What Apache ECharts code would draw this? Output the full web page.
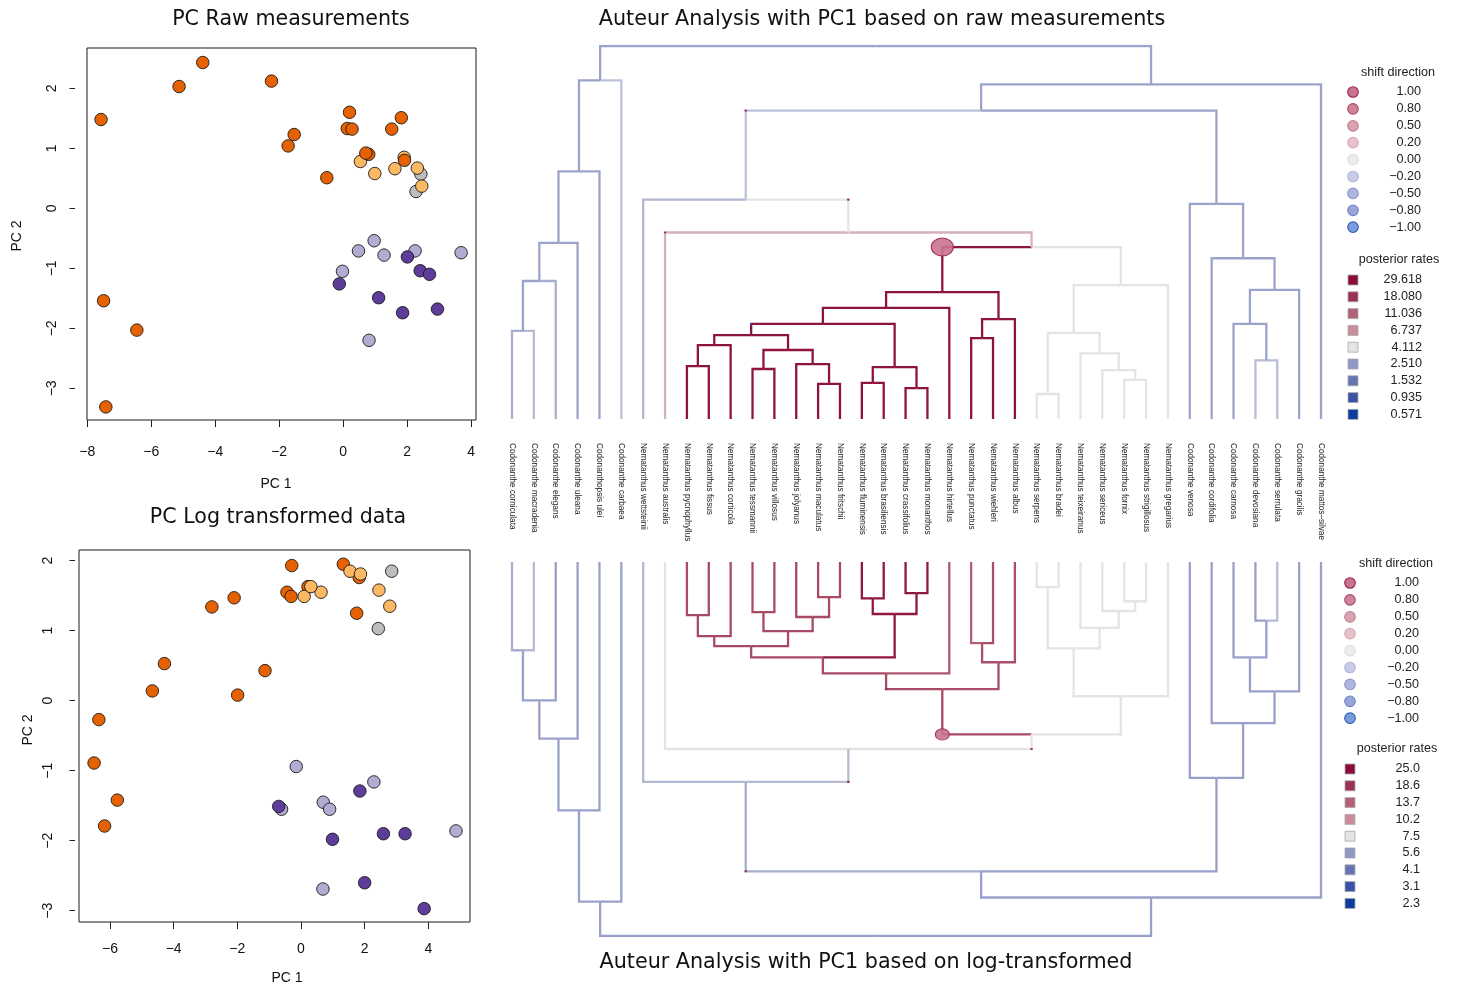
<!DOCTYPE html>
<html><head><meta charset="utf-8">
<script src="https://cdn.jsdelivr.net/npm/echarts@6/dist/echarts.min.js"></script>
<style>html,body{margin:0;padding:0;background:#fff}#c{width:1460px;height:985px}</style>
</head><body><div id="c"></div>
<script>
// ---------- tree data ----------
const tips = ['Codonanthe corniculata','Codonanthe macradenia','Codonanthe elegans','Codonanthe uleana','Codonanthopsis ulei','Codonanthe carbaea','Nematanthus wettsteinii','Nematanthus australis','Nematanthus pycnophyllus','Nematanthus fissus','Nematanthus corticola','Nematanthus tessmannii','Nematanthus villosus','Nematanthus jolyanus','Nematanthus maculatus','Nematanthus fritschii','Nematanthus fluminensis','Nematanthus brasiliensis','Nematanthus crassifolius','Nematanthus monanthos','Nematanthus hirtellus','Nematanthus punctatus','Nematanthus wiehleri','Nematanthus albus','Nematanthus serpens','Nematanthus bradei','Nematanthus teixeiranus','Nematanthus sericeus','Nematanthus fornix','Nematanthus strigillosus','Nematanthus gregarius','Codonanthe venosa','Codonanthe cordifolia','Codonanthe carnosa','Codonanthe devosiana','Codonanthe serrulata','Codonanthe gracilis','Codonanthe mattos\u2013silvae'];
const nodeNames = ['a','b','c','d','e','f','g','h','i','j','k','l','m','n','o','p','q','r','s','t','u','v','w','x','y','z','A','B','C','D','E','F','G','H','I','J','K'];
const nodeChildren = [[0,1],['a',2],['b',3],['c',4],['d',5],[8,9],['f',10],[11,12],[14,15],[13,'i'],['h','j'],['g','k'],[16,17],[18,19],['m','n'],['l','o'],['p',20],[21,22],['r',23],['q','s'],[24,25],[28,29],[27,'v'],[26,'w'],['u','x'],['y',30],['t','z'],[7,'A'],[6,'B'],[34,35],[33,'D'],['E',36],[32,'F'],[31,'G'],['C','H'],['I',37],['e','J']];
const nodeAge = [0.236,0.370,0.472,0.664,0.908,0.142,0.198,0.134,0.094,0.147,0.185,0.225,0.097,0.083,0.139,0.255,0.298,0.217,0.268,0.340,0.067,0.105,0.131,0.176,0.231,0.359,0.461,0.500,0.588,0.157,0.255,0.346,0.431,0.577,0.827,0.897,1.000];

// posterior rates per branch (raw measurements tree)
const tipRateRaw = [2.9,3.15,2.9,2.7,2.7,3.3,3.05,5.5, 27,27,27,27,27,27,27,27,27,27,27,27,27,27,27,27, 4.1,4.1,4.1,4.1,4.1,4.1,4.1, 2.7,2.7,2.7,3.2,3.2,2.7,2.7];
const nodeRateRaw = [2.7,2.7,2.7,2.7,2.7, 27,27,27,27,27,27,27,27,27,27,27,27,27,27,27, 4.1,4.1,4.1,4.1,4.1,4.1, 5.5,4.1,3.3, 2.7,2.7,2.7,2.7,2.7,2.7,2.7,null];
// posterior rates per branch (log-transformed tree)
const tipRateLog = [6.1,6.4,5.8,5.8,5.8,5.8,6.35,7.5, 15.8,15.8,15.8,15.8,15.8,15.8,15.8,15.8, 22.8,22.8,22.8,22.8, 14.5,13.8,15.5,15.5, 7.5,7.5,7.5,7.5,7.5,7.5,7.5, 5.8,5.8,5.8,5.8,6.4,5.8,5.8];
const nodeRateLog = [5.8,5.8,5.8,5.8,5.8, 15.8,15.8,15.8,15.8,15.8,15.8,15.8, 22.8,22.8,22.8, 15.8,15.8,15.5,15.5,15.8, 7.5,7.5,7.5,7.5,7.5,7.5, 7.5,6.4,6.1, 5.8,5.8,5.8,5.8,5.8,5.8,5.8,null];

// shift points (branch, posterior probability, direction)
const shiftRawNode = ['t','B','C',7,'z','y','l'];
const shiftRawProb = [1.0,0.015,0.015,0.01,0.01,0.01,0.01];
const shiftRawDir  = [1,1,1,1,0,0,-1];
const shiftLogNode = ['t','q','o','B','C','A',26];
const shiftLogProb = [0.4,0.015,0.015,0.015,0.015,0.015,0.01];
const shiftLogDir  = [1,1,1,1,1,1,0];

// legends
const shiftLegendValues = [1.00,0.80,0.50,0.20,0.00,-0.20,-0.50,-0.80,-1.00];
const rateLegendRaw = [29.618,18.080,11.036,6.737,4.112,2.510,1.532,0.935,0.571];
const rateLegendLog = [25.0,18.6,13.7,10.2,7.5,5.6,4.1,3.1,2.3];

// ---------- PCA scatter data ----------
const rawDarkOrange = [[-4.39,2.43],[-5.13,2.03],[-2.24,2.12],[-7.57,1.48],[0.20,1.60],[1.82,1.51],[0.13,1.33],[0.28,1.32],[1.52,1.32],[-1.53,1.23],[-1.72,1.04],[0.80,0.90],[0.71,0.92],[1.92,0.80],[-0.51,0.51],[-7.49,-1.54],[-6.45,-2.03],[-7.42,-3.31]];
const rawLightOrange = [[0.54,0.78],[0.99,0.58],[1.62,0.66],[1.91,0.85],[2.32,0.67],[2.46,0.37]];
const rawGray = [[2.43,0.57],[2.28,0.28]];
const rawLightPurple = [[0.97,-0.54],[0.48,-0.71],[1.28,-0.78],[2.25,-0.71],[3.69,-0.74],[-0.02,-1.05],[0.81,-2.20]];
const rawDarkPurple = [[2.01,-0.81],[2.41,-1.04],[2.70,-1.10],[-0.12,-1.26],[1.11,-1.49],[1.86,-1.74],[2.95,-1.68]];

const logDarkOrange = [[-0.29,1.93],[1.33,1.95],[1.83,1.76],[-2.80,1.34],[-2.10,1.47],[-0.44,1.55],[-0.31,1.49],[0.22,1.63],[1.75,1.25],[-4.29,0.53],[-4.67,0.14],[-1.13,0.43],[-1.99,0.08],[-6.35,-0.27],[-6.50,-0.89],[-5.77,-1.42],[-6.17,-1.79]];
const logLightOrange = [[1.54,1.85],[1.87,1.81],[0.10,1.49],[0.63,1.55],[2.45,1.58],[2.79,1.35],[0.31,1.63]];
const logGray = [[2.85,1.85],[2.43,1.03]];
const logLightPurple = [[-0.15,-0.94],[2.29,-1.16],[0.70,-1.45],[0.90,-1.55],[-0.61,-1.55],[4.87,-1.86],[0.69,-2.69]];
const logDarkPurple = [[1.85,-1.29],[-0.70,-1.51],[0.99,-1.98],[2.59,-1.90],[3.27,-1.90],[2.00,-2.60],[3.87,-2.97]];

const pcTicksRawX = [-8,-6,-4,-2,0,2,4];
const pcTicksRawY = [-3,-2,-1,0,1,2];
const pcTicksLogX = [-6,-4,-2,0,2,4];
const pcTicksLogY = [-3,-2,-1,0,1,2];

// ---------- styles ----------
const rateColors = ['#8b0c3c','#9c3052','#b46076','#cb8d9b','#e4e4e4','#8f98c6','#6674b2','#3c52a8','#0c3c9e'];
const shiftFill = ['#c8748f','#cd8499','#d9a4b2','#e6c2ca','#ececec','#c9cce6','#afb6df','#99a6da','#7b9cdb'];
const shiftStroke = ['#a0234f','#b04a68','#c27c8e','#d7a9b4','#dedede','#b1b6d9','#8e98cd','#6d7fc8','#2b5bb7'];
const grpColors = {dOr:'#e66101', lOr:'#fdb863', gr:'#bdbdbd', lPu:'#b2abd2', dPu:'#5e3c99'};

function hex2rgb(h){return [parseInt(h.slice(1,3),16),parseInt(h.slice(3,5),16),parseInt(h.slice(5,7),16)];}
function mix(a,b,t){const A=hex2rgb(a),B=hex2rgb(b);return 'rgb('+A.map((v,i)=>Math.round(v+(B[i]-v)*t)).join(',')+')';}
function rateColor(r, stops){
  const v=stops.slice().reverse(), c=rateColors.slice().reverse();
  if(r<=v[0]) return c[0];
  if(r>=v[v.length-1]) return c[c.length-1];
  for(let k=0;k<v.length-1;k++){
    if(r>=v[k]&&r<=v[k+1]){const t=(Math.log(r)-Math.log(v[k]))/(Math.log(v[k+1])-Math.log(v[k]));return mix(c[k],c[k+1],t);}
  }
}
const nodeIndex={}; nodeNames.forEach((n,i)=>nodeIndex[n]=i);
const parentOf={}; nodeNames.forEach((n,i)=>nodeChildren[i].forEach(ch=>parentOf[ch]=n));
function xOf(id){ if(typeof id==='number') return id; const ch=nodeChildren[nodeIndex[id]]; return (xOf(ch[0])+xOf(ch[1]))/2; }
function ageOf(id){ return typeof id==='number'?0:nodeAge[nodeIndex[id]]; }
function rateOf(id,tr,nr){ return typeof id==='number'?tr[id]:nr[nodeIndex[id]]; }
function buildEdges(tr,nr,stops){
  const out=[];
  nodeNames.forEach((n,i)=>{
    const px=xOf(n), pa=nodeAge[i];
    nodeChildren[i].forEach(ch=>{
      const cx=xOf(ch);
      out.push({coords:[[px,pa],[cx,pa],[cx,ageOf(ch)]], lineStyle:{color:rateColor(rateOf(ch,tr,nr),stops),width:2.3,opacity:1}});
    });
  });
  return out;
}
function nearestIdx(v){let b=0;shiftLegendValues.forEach((s,i)=>{if(Math.abs(s-v)<Math.abs(shiftLegendValues[b]-v))b=i;});return b;}
function buildShifts(nodes,probs,dirs){
  return nodes.map((nd,i)=>{
    const w=22*Math.sqrt(probs[i]); const k=nearestIdx(dirs[i]);
    const big=w>6;
    return {value:[xOf(nd),ageOf(parentOf[nd])], symbolSize:[w,w*0.82],
      itemStyle:{color: big?shiftFill[k]:shiftStroke[k], borderColor:shiftStroke[k], borderWidth:big?1:0, opacity:big?0.9:1}};
  });
}
const minusFmt = v => v<0 ? '\u2212'+Math.abs(v) : String(v);
const SANS='Liberation Sans', TITLE='DejaVu Sans';

function scatterSeries(arr,color,xi){
  return {type:'scatter',xAxisIndex:xi,yAxisIndex:xi,data:arr,symbol:'circle',symbolSize:12.5,
    itemStyle:{color:color,borderColor:'#1a1a1a',borderWidth:0.9,opacity:1},silent:true};
}
function pcX(grid,min,max,ticks,margin){
  return {gridIndex:grid,type:'value',position:'bottom',min:min,max:max,axisLine:{show:false,onZero:false},splitLine:{show:false},
    axisTick:{show:true,customValues:ticks,length:7,lineStyle:{color:'#222',width:1}},
    axisLabel:{customValues:ticks,formatter:minusFmt,margin:margin,color:'#111',fontSize:14,fontFamily:SANS}};
}
function pcY(grid,min,max,ticks,offset,margin){
  return {gridIndex:grid,type:'value',position:'left',min:min,max:max,offset:offset,axisLine:{show:false,onZero:false},splitLine:{show:false},
    axisTick:{show:true,customValues:ticks,length:5.5,lineStyle:{color:'#222',width:1}},
    axisLabel:{customValues:ticks,formatter:minusFmt,rotate:90,margin:margin,color:'#111',fontSize:14,fontFamily:SANS}};
}

// ---------- graphics: titles, axis names, legends ----------
const graphics=[];
function txt(x,y,s,font,align,color){graphics.push({type:'text',x:x,y:y,silent:true,style:{text:s,font:font,textAlign:align||'center',textVerticalAlign:'middle',fill:color||'#111'}});}
txt(291,20,'PC Raw measurements','20.6px '+TITLE);
txt(278,518,'PC Log transformed data','20.6px '+TITLE);
txt(882,20,'Auteur Analysis with PC1 based on raw measurements','20.7px '+TITLE);
txt(866,963,'Auteur Analysis with PC1 based on log-transformed','20.7px '+TITLE);
txt(276,484,'PC 1','14px '+SANS);
txt(287,978,'PC 1','14px '+SANS);
graphics.push({type:'text',x:17,y:236,rotation:Math.PI/2,silent:true,style:{text:'PC 2',font:'14px '+SANS,textAlign:'center',textVerticalAlign:'middle',fill:'#111'}});
graphics.push({type:'text',x:28,y:730,rotation:Math.PI/2,silent:true,style:{text:'PC 2',font:'14px '+SANS,textAlign:'center',textVerticalAlign:'middle',fill:'#111'}});

function legend(cfg, rates){
  txt(cfg.titleX, cfg.shiftY, 'shift direction', '12.6px '+SANS, 'center', '#222');
  shiftLegendValues.forEach((v,i)=>{
    const y=cfg.shiftY+19+i*16.9;
    graphics.push({type:'circle',silent:true,shape:{cx:cfg.symX,cy:y,r:5.3},style:{fill:shiftFill[i],stroke:shiftStroke[i],lineWidth:1.1}});
    txt(cfg.labX,y,v.toFixed(2).replace('-','\u2212'),'12.6px '+SANS,'right','#222');
  });
  txt(cfg.titleX+1, cfg.rateY, 'posterior rates', '12.6px '+SANS, 'center', '#222');
  rates.forEach((v,i)=>{
    const y=cfg.rateY+20+i*16.8;
    graphics.push({type:'rect',silent:true,shape:{x:cfg.symX-5,y:y-5,width:10,height:10},style:{fill:rateColors[i],stroke:'#a8a8a8',lineWidth:0.8}});
    txt(cfg.labX+1,y,cfg.fmt(v),'12.6px '+SANS,'right','#222');
  });
}
legend({titleX:1398,shiftY:73,symX:1353,labX:1421,rateY:260,fmt:v=>v.toFixed(3)}, rateLegendRaw);
legend({titleX:1396,shiftY:564,symX:1350,labX:1419,rateY:749,fmt:v=>v.toFixed(1)}, rateLegendLog);

// ---------- option ----------
const option={
  animation:false,
  backgroundColor:'#ffffff',
  grid:[
    {left:87,top:48,width:389,height:372,show:true,borderColor:'#1a1a1a',borderWidth:1,backgroundColor:'transparent'},
    {left:79,top:550,width:391,height:372,show:true,borderColor:'#1a1a1a',borderWidth:1,backgroundColor:'transparent'},
    {left:512,top:46,width:809,height:373},
    {left:512,top:562,width:809,height:374}
  ],
  xAxis:[
    pcX(0,-8.009,4.155,pcTicksRawX,25),
    pcX(1,-6.974,5.310,pcTicksLogX,20),
    {gridIndex:2,type:'value',min:0,max:37,interval:1,axisLine:{show:false},axisTick:{show:false},splitLine:{show:false},
      axisLabel:{formatter:v=>tips[v]||'',rotate:-90,margin:24,fontSize:8.2,fontFamily:SANS,color:'#222',showMinLabel:true,showMaxLabel:true}},
    {gridIndex:3,type:'value',min:0,max:37,show:false}
  ],
  yAxis:[
    pcY(0,-3.528,2.672,pcTicksRawY,12,16),
    pcY(1,-3.161,2.153,pcTicksLogY,4,20),
    {gridIndex:2,type:'value',min:0,max:1,show:false},
    {gridIndex:3,type:'value',min:0,max:1,inverse:true,show:false}
  ],
  graphic:graphics,
  series:[
    scatterSeries(rawLightPurple,grpColors.lPu,0),
    scatterSeries(rawDarkPurple,grpColors.dPu,0),
    scatterSeries(rawGray,grpColors.gr,0),
    scatterSeries(rawLightOrange,grpColors.lOr,0),
    scatterSeries(rawDarkOrange,grpColors.dOr,0),
    scatterSeries(logDarkOrange,grpColors.dOr,1),
    scatterSeries(logLightOrange,grpColors.lOr,1),
    scatterSeries(logGray,grpColors.gr,1),
    scatterSeries(logLightPurple,grpColors.lPu,1),
    scatterSeries(logDarkPurple,grpColors.dPu,1),
    {type:'lines',coordinateSystem:'cartesian2d',xAxisIndex:2,yAxisIndex:2,polyline:true,silent:true,
      lineStyle:{width:2.3,opacity:1},data:buildEdges(tipRateRaw,nodeRateRaw,rateLegendRaw)},
    {type:'lines',coordinateSystem:'cartesian2d',xAxisIndex:3,yAxisIndex:3,polyline:true,silent:true,
      lineStyle:{width:2.3,opacity:1},data:buildEdges(tipRateLog,nodeRateLog,rateLegendLog)},
    {type:'scatter',xAxisIndex:2,yAxisIndex:2,silent:true,symbol:'circle',data:buildShifts(shiftRawNode,shiftRawProb,shiftRawDir),z:5},
    {type:'scatter',xAxisIndex:3,yAxisIndex:3,silent:true,symbol:'circle',data:buildShifts(shiftLogNode,shiftLogProb,shiftLogDir),z:5}
  ]
};
const chart=echarts.init(document.getElementById('c'),null,{renderer:'canvas'});
chart.setOption(option);
</script>
</body></html>
